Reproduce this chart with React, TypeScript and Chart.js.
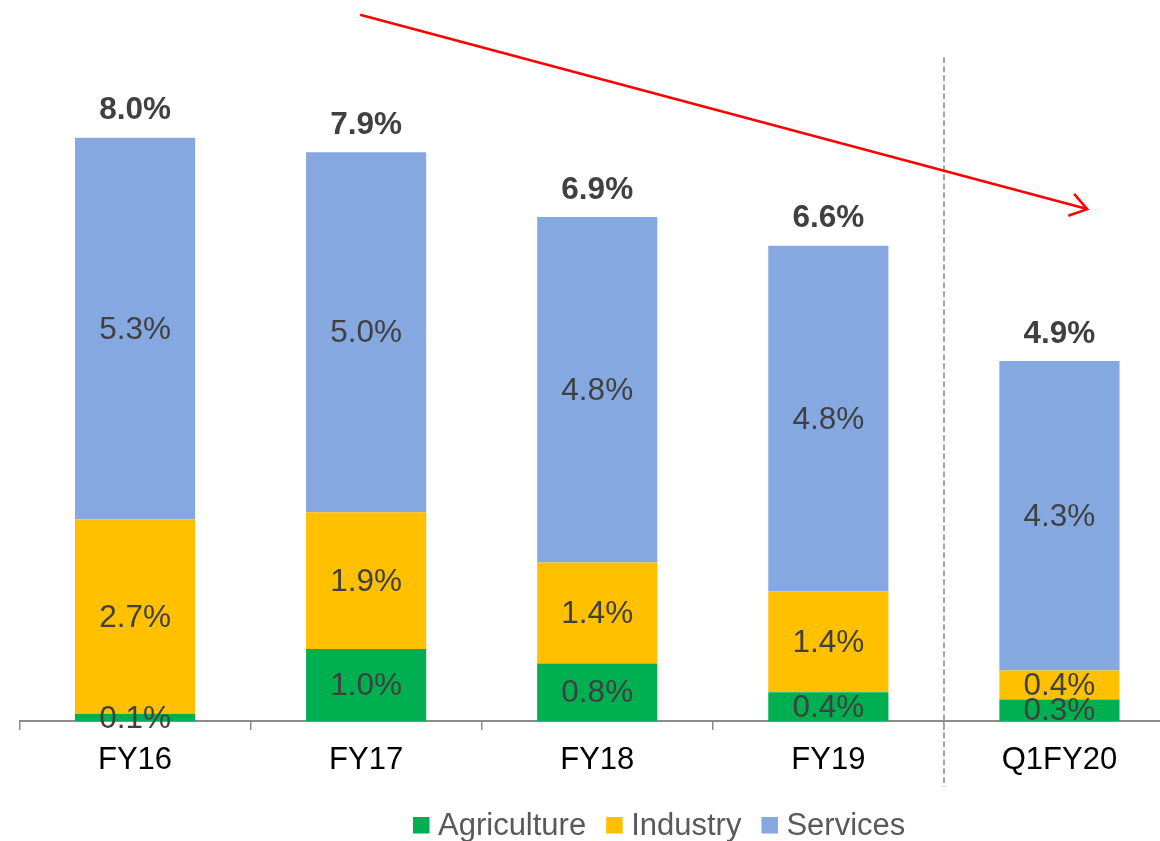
import React, { useEffect, useRef } from "react";
import { Chart, registerables } from "chart.js";

Chart.register(...registerables);

const categories = ["FY16", "FY17", "FY18", "FY19", "Q1FY20"];
const agriculture = [0.1, 1.0, 0.8, 0.4, 0.3];
const industry = [2.7, 1.9, 1.4, 1.4, 0.4];
const services = [5.3, 5.0, 4.8, 4.8, 4.3];
const totals = [8.0, 7.9, 6.9, 6.6, 4.9];
const seriesNames = ["Agriculture", "Industry", "Services"];
const seriesColors = ["#00B050", "#FFC000", "#86A8E0"];

const FONT = "'Liberation Sans', Arial, sans-serif";

const overlayPlugin = {
  id: "overlay",
  afterDatasetsDraw(chart: any) {
    const ctx = chart.ctx;
    const xs = chart.scales.x;
    const ys = chart.scales.y;
    const area = chart.chartArea;
    ctx.save();
    // segment labels
    ctx.textAlign = "center";
    ctx.textBaseline = "middle";
    ctx.fillStyle = "#404040";
    ctx.font = `31.5px ${FONT}`;
    chart.data.datasets.forEach((ds: any, di: number) => {
      const meta = chart.getDatasetMeta(di);
      meta.data.forEach((bar: any, i: number) => {
        const y = (bar.y + bar.base) / 2;
        ctx.fillText(ds.data[i].toFixed(1) + "%", bar.x, y + 1.5);
      });
    });
    // totals
    ctx.font = `bold 31.5px ${FONT}`;
    const topMeta = chart.getDatasetMeta(chart.data.datasets.length - 1);
    topMeta.data.forEach((bar: any, i: number) => {
      ctx.fillText(totals[i].toFixed(1) + "%", bar.x, bar.y - 27);
    });
    // dashed separator
    const sx = Math.round(xs.getPixelForValue(3.5));
    ctx.strokeStyle = "#A6A6A6";
    ctx.lineWidth = 2;
    ctx.setLineDash([6, 3]);
    ctx.beginPath();
    ctx.moveTo(sx, ys.getPixelForValue(9.22));
    ctx.lineTo(sx, area.bottom + 66);
    ctx.stroke();
    ctx.setLineDash([]);
    // red trend arrow
    const x1 = xs.getPixelForValue(0.974);
    const y1 = ys.getPixelForValue(9.81);
    const x2 = xs.getPixelForValue(4.12);
    const y2 = ys.getPixelForValue(7.11);
    ctx.strokeStyle = "#FF0000";
    ctx.lineWidth = 2.5;
    ctx.beginPath();
    ctx.moveTo(x1, y1);
    ctx.lineTo(x2, y2);
    ctx.stroke();
    const ang = Math.atan2(y2 - y1, x2 - x1);
    const hl = 20;
    ctx.beginPath();
    ctx.moveTo(x2 + hl * Math.cos(ang + Math.PI - 0.6), y2 + hl * Math.sin(ang + Math.PI - 0.6));
    ctx.lineTo(x2, y2);
    ctx.lineTo(x2 + hl * Math.cos(ang + Math.PI + 0.6), y2 + hl * Math.sin(ang + Math.PI + 0.6));
    ctx.stroke();
    // legend
    ctx.font = `31px ${FONT}`;
    ctx.textAlign = "left";
    ctx.textBaseline = "middle";
    let lx = area.left + 393.5;
    const ly = area.bottom + 104;
    seriesNames.forEach((name, i) => {
      ctx.fillStyle = seriesColors[i];
      ctx.fillRect(lx, ly - 8, 16.5, 16.5);
      lx += 25;
      ctx.fillStyle = "#595959";
      ctx.fillText(name, lx, ly + 1);
      lx += ctx.measureText(name).width + 20;
    });
    ctx.restore();
  },
};

export default function App() {
  const ref = useRef<HTMLCanvasElement | null>(null);
  useEffect(() => {
    if (!ref.current) return;
    const chart = new Chart(ref.current, {
      type: "bar",
      data: {
        labels: categories,
        datasets: [
          { label: seriesNames[0], data: agriculture, backgroundColor: seriesColors[0] },
          { label: seriesNames[1], data: industry, backgroundColor: seriesColors[1] },
          { label: seriesNames[2], data: services, backgroundColor: seriesColors[2] },
        ],
      },
      options: {
        responsive: false,
        animation: false,
        devicePixelRatio: 1,
        layout: { padding: { left: 19.5, right: 0, top: 1, bottom: 49.8 } },
        datasets: { bar: { categoryPercentage: 1, barPercentage: 0.52 } },
        plugins: { legend: { display: false }, tooltip: { enabled: false } },
        scales: {
          x: {
            stacked: true,
            grid: {
              display: true,
              drawOnChartArea: false,
              drawTicks: true,
              tickLength: 9,
              color: "#8C8C8C",
              lineWidth: 1.5,
            },
            border: { display: true, color: "#8C8C8C", width: 2 },
            ticks: {
              color: "#000000",
              font: { family: FONT, size: 31 },
              padding: 12,
              maxRotation: 0,
            },
          },
          y: {
            stacked: true,
            display: false,
            min: 0,
            max: 10,
          },
        },
      },
      plugins: [overlayPlugin],
    });
    return () => chart.destroy();
  }, []);
  return (
    <div style={{ position: "absolute", left: 0, top: 0, width: 1160, height: 841, overflow: "hidden", background: "#fff" }}>
      <canvas ref={ref} width={1175} height={841} style={{ display: "block" }} />
    </div>
  );
}
